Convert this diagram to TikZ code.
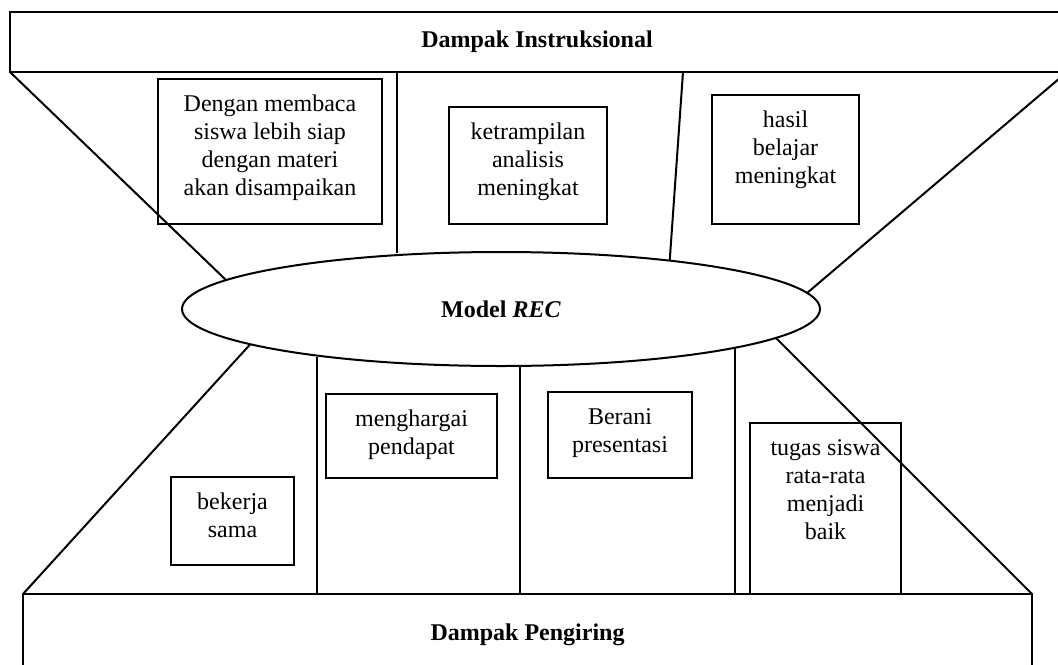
\documentclass[tikz,border=0pt]{standalone}
\usepackage{fontspec}
\setmainfont{Liberation Serif}
\usepackage{tikz}
\usetikzlibrary{shapes.geometric}

\begin{document}
\begin{tikzpicture}[
    x=0.5pt, y=-0.5pt,
    line width=1pt,
    every node/.style={font={\fontsize{12pt}{14pt}\selectfont}},
    band/.style={draw, rectangle, anchor=north west, inner sep=0pt, outer sep=0pt, font={\fontsize{12pt}{14pt}\selectfont\bfseries}},
    model/.style={draw, ellipse, inner sep=0pt, outer sep=0pt, minimum width=319pt, minimum height=57pt, fill=white, font={\fontsize{12pt}{14pt}\selectfont\bfseries}},
    impact/.style n args={3}{draw, rectangle, anchor=north west, align=center, outer sep=0pt, inner ysep=7pt, minimum width=#1, text height=#2, text depth=#3},
    link/.style={line width=1pt}
  ]
  \useasboundingbox (0,0) rectangle (1058,664);

  \node[band, minimum width=527pt, minimum height=30pt] (instr) at (10,12) {Dampak Instruksional};
  \node[band, minimum width=504.5pt, minimum height=41pt] (iring) at (23,594) {Dampak Pengiring};
  \node[model] (rec) at (501,309) {Model \textit{REC}};

  % dampak instruksional
  \node[impact={112pt}{51pt}{7.5pt}] (baca) at (158,79) {Dengan membaca\\siswa lebih siap\\dengan materi\\akan disampaikan};
  \node[impact={79pt}{37pt}{7.5pt}] (analisis) at (449,107) {ketrampilan\\analisis\\meningkat};
  \node[impact={73.5pt}{37pt}{13.5pt}] (hasil) at (712,95) {hasil\\belajar\\meningkat};

  % dampak pengiring
  \node[impact={61.5pt}{23pt}{7pt}] (kerja) at (171,477) {bekerja\\sama};
  \node[impact={85.5pt}{23pt}{5pt}] (hargai) at (326,394) {menghargai\\pendapat};
  \node[impact={72pt}{23pt}{6pt}] (berani) at (548,392) {Berani\\presentasi};
  \node[impact={75.5pt}{51pt}{20.5pt}] (tugas) at (750,423) {tugas siswa\\rata-rata\\menjadi\\baik};

  \coordinate (u2) at (397,72);
  \coordinate (u3) at (683,72);
  \coordinate (u4) at (1067,72);
  \coordinate (d2) at (317,594);
  \coordinate (d3) at (520,594);
  \coordinate (d4) at (735,594);
  \coordinate (e2) at (397,253);
  \coordinate (f2) at (317,357);
  \coordinate (f3) at (520,367);
  \coordinate (f4) at (735,347);

  \draw[link] (instr.south west) -- (rec.174.5);
  \draw[link] (u2) -- (e2);
  \draw[link] (u3) -- (rec.16.2);
  \draw[link] (u4) -- (rec.3.2);

  \draw[link] (iring.north west) -- (rec.188.7);
  \draw[link] (d2) -- (f2);
  \draw[link] (d3) -- (f3);
  \draw[link] (d4) -- (f4);
  \draw[link] (iring.north east) -- (rec.354.6);
\end{tikzpicture}
\end{document}
